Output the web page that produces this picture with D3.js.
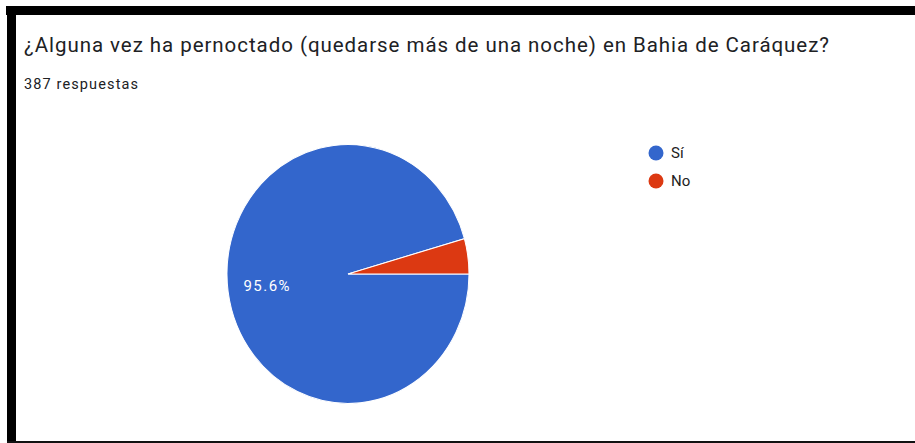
<!DOCTYPE html>
<html>
<head>
<meta charset="utf-8">
<script src="https://cdn.jsdelivr.net/npm/d3@7"></script>
<style>
  html, body { margin: 0; padding: 0; background: #fff; }
  svg { display: block; }
  text { font-family: Roboto, "Noto Sans", sans-serif; }
</style>
</head>
<body>
<svg id="chart" width="915" height="443"></svg>
<script>
var title = "¿Alguna vez ha pernoctado (quedarse más de una noche) en Bahia de Caráquez?";
var subtitle = "387 respuestas";
var categories = ["Sí", "No"];
var values = [95.6, 4.4];
var colours = ["#3366cc", "#dc3912"];

var svg = d3.select("#chart");
var W = 915, H = 443;

// frame (black bands around the card)
svg.append("rect").attr("x", 0).attr("y", 0).attr("width", W).attr("height", H).attr("fill", "#fff");
svg.append("rect").attr("x", 6).attr("y", 6).attr("width", W - 6).attr("height", 9).attr("fill", "#000");
svg.append("rect").attr("x", 7).attr("y", 6).attr("width", 9).attr("height", H - 6).attr("fill", "#000");
svg.append("rect").attr("x", 7).attr("y", 441).attr("width", W - 7).attr("height", 2).attr("fill", "#111");

// the source picture is a bit stretched, so text is widened to match
svg.append("text")
  .attr("x", 24).attr("y", 52)
  .attr("font-size", 20.5)
  .attr("fill", "#202124")
  .attr("textLength", 805)
  .attr("lengthAdjust", "spacing")
  .text(title);

svg.append("text")
  .attr("x", 24).attr("y", 89)
  .attr("font-size", 14.5)
  .attr("fill", "#202124")
  .attr("textLength", 114)
  .attr("lengthAdjust", "spacing")
  .text(subtitle);

var data = categories.map(function(c, i) { return { name: c, value: values[i], colour: colours[i] }; });

var cx = 348, cy = 274, r = 121, sy = 1.07;

var pie = d3.pie()
  .sort(null)
  .value(function(d) { return d.value; })
  .startAngle(Math.PI / 2)
  .endAngle(Math.PI / 2 + 2 * Math.PI);

var arc = d3.arc().innerRadius(0).outerRadius(r);
var labelArc = d3.arc().innerRadius(r * 0.68).outerRadius(r * 0.68);

var g = svg.append("g").attr("transform", "translate(" + cx + "," + cy + ") scale(1," + sy + ")");

g.selectAll("path.slice")
  .data(pie(data))
  .enter().append("path")
  .attr("class", "slice")
  .attr("d", arc)
  .attr("fill", function(d) { return d.data.colour; })
  .attr("stroke", "#fff")
  .attr("stroke-width", 1);

svg.selectAll("text.pct")
  .data(pie(data).filter(function(d) { return d.data.value > 10; }))
  .enter().append("text")
  .attr("class", "pct")
  .attr("x", function(d) { return cx + labelArc.centroid(d)[0] - 23; })
  .attr("y", function(d) { return cy + labelArc.centroid(d)[1] * sy; })
  .attr("dy", "0.35em")
  .attr("font-size", 15)
  .attr("fill", "#fff")
  .attr("textLength", 46)
  .attr("lengthAdjust", "spacing")
  .text(function(d) { return d.data.value.toFixed(1) + "%"; });

// legend
var legend = svg.append("g").attr("transform", "translate(656,153)");
var items = legend.selectAll("g.item")
  .data(data)
  .enter().append("g")
  .attr("class", "item")
  .attr("transform", function(d, i) { return "translate(0," + (i * 28) + ")"; });

items.append("circle")
  .attr("r", 7.5)
  .attr("fill", function(d) { return d.colour; });

items.append("text")
  .attr("x", 15)
  .attr("dy", "0.36em")
  .attr("font-size", 15)
  .attr("fill", "#222")
  .text(function(d) { return d.name; });
</script>
</body>
</html>
